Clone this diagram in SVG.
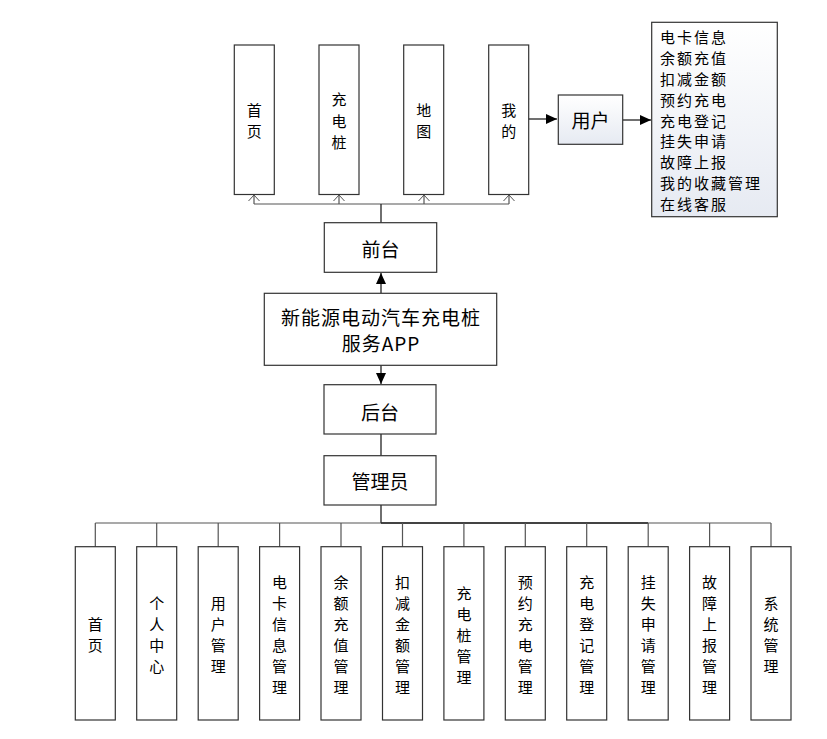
<svg xmlns="http://www.w3.org/2000/svg" width="827" height="739" viewBox="0 0 827 739">
<style>
.box{fill:#fff;stroke:#333;stroke-width:1.2}
.gbox{fill:url(#g);stroke:#333;stroke-width:1.2}
.t{font-family:"Noto Sans CJK SC","Liberation Sans",sans-serif;fill:#000;text-anchor:middle;dominant-baseline:central}
.s16{font-size:15px}
.s19{font-size:19px}
.s20{font-size:19px}
.ln{stroke:#222;stroke-width:1.3;fill:none}
.thin{stroke:#555;stroke-width:1.2;fill:none}
</style>
<defs>
<linearGradient id="g" x1="0" y1="0" x2="0" y2="1">
<stop offset="0" stop-color="#ffffff"/>
<stop offset="1" stop-color="#e6eaf2"/>
</linearGradient>
<marker id="fa" markerWidth="12" markerHeight="10" refX="11" refY="5" orient="auto" markerUnits="userSpaceOnUse">
<path d="M0,0 L11,5 L0,10 Z" fill="#000"/>
</marker>
<marker id="oa" markerWidth="8" markerHeight="12" refX="6.5" refY="6" orient="auto" markerUnits="userSpaceOnUse">
<path d="M0.5,0.5 L6.5,6 L0.5,11.5" fill="none" stroke="#555" stroke-width="1"/>
</marker>
</defs>

<g id="connectors">
<path class="thin" d="M254,204 H509"/>
<path class="ln" d="M381,223 V204"/>
<path class="thin" d="M254,204 V195" marker-end="url(#oa)"/>
<path class="thin" d="M339,204 V195" marker-end="url(#oa)"/>
<path class="thin" d="M424,204 V195" marker-end="url(#oa)"/>
<path class="thin" d="M509,204 V195" marker-end="url(#oa)"/>
<path class="ln" d="M528,119 H557" marker-end="url(#fa)"/>
<path class="ln" d="M623,120 H651" marker-end="url(#fa)"/>
<path class="ln" d="M381,293 V273" marker-end="url(#fa)"/>
<path class="ln" d="M381,365 V384" marker-end="url(#fa)"/>
<path class="ln" d="M381,434 V456"/>
<path class="ln" d="M381,505 V523" stroke-width="2"/>
<path class="thin" d="M95.3,523 H771"/>
<path class="ln" d="M381,523 H648" stroke-width="2"/>
<path class="thin" d="M95.3,523 V547 M156.7,523 V547 M218.2,523 V547 M279.6,523 V547 M341,523 V547 M402.5,523 V547 M463.9,523 V547 M525.3,523 V547 M586.7,523 V547 M648.2,523 V547 M709.6,523 V547 M771,523 V547"/>
</g>

<g id="n-shouye"><rect class="box" x="234.3" y="45" width="40" height="149.5"/>
<text class="t s16"><tspan x="254.3" y="108.75">首</tspan><tspan x="254.3" y="130.25">页</tspan></text></g>
<g id="n-chongdianzhuang"><rect class="box" x="319" y="45" width="40" height="149.5"/>
<text class="t s16"><tspan x="339" y="98">充</tspan><tspan x="339" y="119.5">电</tspan><tspan x="339" y="141">桩</tspan></text></g>
<g id="n-ditu"><rect class="box" x="403.7" y="45" width="40" height="149.5"/>
<text class="t s16"><tspan x="423.7" y="108.75">地</tspan><tspan x="423.7" y="130.25">图</tspan></text></g>
<g id="n-wode"><rect class="box" x="488.7" y="45" width="40" height="149.5"/>
<text class="t s16"><tspan x="508.7" y="108.75">我</tspan><tspan x="508.7" y="130.25">的</tspan></text></g>

<g id="n-yonghu"><rect class="gbox" x="558.3" y="95" width="64.4" height="49.3"/>
<text class="t s19" x="590.5" y="119.5">用户</text></g>

<g id="n-list"><rect class="gbox" x="651.7" y="22.3" width="125.6" height="194.4"/>
<text class="t" style="font-size:15px;text-anchor:start;letter-spacing:2px">
<tspan x="660" y="35.7">电卡信息</tspan>
<tspan x="660" y="56.6">余额充值</tspan>
<tspan x="660" y="77.6">扣减金额</tspan>
<tspan x="660" y="98.5">预约充电</tspan>
<tspan x="660" y="119.5">充电登记</tspan>
<tspan x="660" y="140.4">挂失申请</tspan>
<tspan x="660" y="161.4">故障上报</tspan>
<tspan x="660" y="182.3">我的收藏管理</tspan>
<tspan x="660" y="203.3">在线客服</tspan>
</text></g>

<g id="n-qiantai"><rect class="box" x="324.3" y="222.7" width="112.4" height="49.6"/>
<text class="t s19" x="380.5" y="248">前台</text></g>

<g id="n-app"><rect class="box" x="264.3" y="293.3" width="232.4" height="72"/>
<text class="t s20" style="letter-spacing:1px"><tspan x="381" y="316">新能源电动汽车充电桩</tspan><tspan x="381" y="342">服务APP</tspan></text></g>

<g id="n-houtai"><rect class="box" x="324" y="384.7" width="112" height="49.3"/>
<text class="t s19" x="380" y="411">后台</text></g>

<g id="n-admin"><rect class="box" x="324" y="455.7" width="112" height="49.3"/>
<text class="t s19" x="380" y="480">管理员</text></g>

<g id="b1"><rect class="box" x="75.3" y="546.7" width="40" height="173.3"/>
<text class="t s16"><tspan x="95.3" y="623">首</tspan><tspan x="95.3" y="644">页</tspan></text></g>
<g id="b2"><rect class="box" x="136.7" y="546.7" width="40" height="173.3"/>
<text class="t s16"><tspan x="156.7" y="602">个</tspan><tspan x="156.7" y="623">人</tspan><tspan x="156.7" y="644">中</tspan><tspan x="156.7" y="665">心</tspan></text></g>
<g id="b3"><rect class="box" x="198.2" y="546.7" width="40" height="173.3"/>
<text class="t s16"><tspan x="218.2" y="602">用</tspan><tspan x="218.2" y="623">户</tspan><tspan x="218.2" y="644">管</tspan><tspan x="218.2" y="665">理</tspan></text></g>
<g id="b4"><rect class="box" x="259.6" y="546.7" width="40" height="173.3"/>
<text class="t s16"><tspan x="279.6" y="581">电</tspan><tspan x="279.6" y="602">卡</tspan><tspan x="279.6" y="623">信</tspan><tspan x="279.6" y="644">息</tspan><tspan x="279.6" y="665">管</tspan><tspan x="279.6" y="686">理</tspan></text></g>
<g id="b5"><rect class="box" x="321" y="546.7" width="40" height="173.3"/>
<text class="t s16"><tspan x="341" y="581">余</tspan><tspan x="341" y="602">额</tspan><tspan x="341" y="623">充</tspan><tspan x="341" y="644">值</tspan><tspan x="341" y="665">管</tspan><tspan x="341" y="686">理</tspan></text></g>
<g id="b6"><rect class="box" x="382.5" y="546.7" width="40" height="173.3"/>
<text class="t s16"><tspan x="402.5" y="581">扣</tspan><tspan x="402.5" y="602">减</tspan><tspan x="402.5" y="623">金</tspan><tspan x="402.5" y="644">额</tspan><tspan x="402.5" y="665">管</tspan><tspan x="402.5" y="686">理</tspan></text></g>
<g id="b7"><rect class="box" x="443.9" y="546.7" width="40" height="173.3"/>
<text class="t s16"><tspan x="463.9" y="591.5">充</tspan><tspan x="463.9" y="612.5">电</tspan><tspan x="463.9" y="633.5">桩</tspan><tspan x="463.9" y="654.5">管</tspan><tspan x="463.9" y="675.5">理</tspan></text></g>
<g id="b8"><rect class="box" x="505.3" y="546.7" width="40" height="173.3"/>
<text class="t s16"><tspan x="525.3" y="581">预</tspan><tspan x="525.3" y="602">约</tspan><tspan x="525.3" y="623">充</tspan><tspan x="525.3" y="644">电</tspan><tspan x="525.3" y="665">管</tspan><tspan x="525.3" y="686">理</tspan></text></g>
<g id="b9"><rect class="box" x="566.7" y="546.7" width="40" height="173.3"/>
<text class="t s16"><tspan x="586.7" y="581">充</tspan><tspan x="586.7" y="602">电</tspan><tspan x="586.7" y="623">登</tspan><tspan x="586.7" y="644">记</tspan><tspan x="586.7" y="665">管</tspan><tspan x="586.7" y="686">理</tspan></text></g>
<g id="b10"><rect class="box" x="628.2" y="546.7" width="40" height="173.3"/>
<text class="t s16"><tspan x="648.2" y="581">挂</tspan><tspan x="648.2" y="602">失</tspan><tspan x="648.2" y="623">申</tspan><tspan x="648.2" y="644">请</tspan><tspan x="648.2" y="665">管</tspan><tspan x="648.2" y="686">理</tspan></text></g>
<g id="b11"><rect class="box" x="689.6" y="546.7" width="40" height="173.3"/>
<text class="t s16"><tspan x="709.6" y="581">故</tspan><tspan x="709.6" y="602">障</tspan><tspan x="709.6" y="623">上</tspan><tspan x="709.6" y="644">报</tspan><tspan x="709.6" y="665">管</tspan><tspan x="709.6" y="686">理</tspan></text></g>
<g id="b12"><rect class="box" x="751" y="546.7" width="40" height="173.3"/>
<text class="t s16"><tspan x="771" y="602">系</tspan><tspan x="771" y="623">统</tspan><tspan x="771" y="644">管</tspan><tspan x="771" y="665">理</tspan></text></g>
</svg>
